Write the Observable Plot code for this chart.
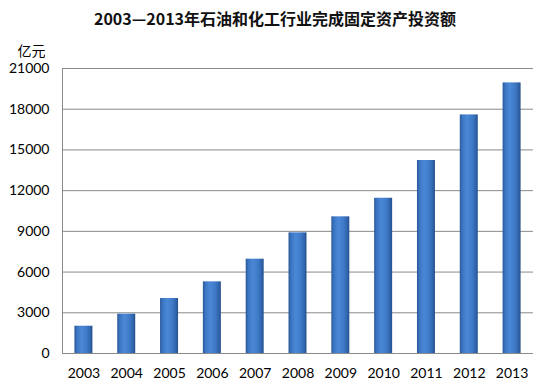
<!DOCTYPE html>
<html>
<head>
<meta charset="utf-8">
<script src="https://cdn.jsdelivr.net/npm/d3@7"></script>
<script src="https://cdn.jsdelivr.net/npm/@observablehq/plot@0.6"></script>
<style>
  body { margin: 0; background: #fff; }
  #wrap { width: 542px; height: 387px; position: relative; }
  #title { height: 35px; line-height: 36px; text-align: center; font-family: "Noto Sans CJK SC", sans-serif; font-weight: bold; font-size: 16px; color: #111; padding-left: 8px; }
</style>
</head>
<body>
<div id="wrap">
  <div id="title">2003—2013年石油和化工行业完成固定资产投资额</div>
  <div id="chart"></div>
</div>
<script>
const years = ["2003","2004","2005","2006","2007","2008","2009","2010","2011","2012","2013"];
const values = [2010, 2900, 4050, 5280, 6950, 8890, 10070, 11440, 14220, 17580, 19940];
const yTicks = [0, 3000, 6000, 9000, 12000, 15000, 18000, 21000];
const unitLabel = "亿元";

const data = years.map((y, i) => ({year: y, value: values[i]}));

const chart = Plot.plot({
  width: 542,
  height: 352,
  marginLeft: 62,
  marginRight: 9,
  marginTop: 33,
  marginBottom: 34,
  style: {fontFamily: "Lato, 'Noto Sans CJK SC', sans-serif", fontSize: "14px", color: "#000", background: "#fff"},
  x: {domain: years, paddingInner: 0.58, paddingOuter: 0.29, round: false, label: null, tickSize: 0, tickPadding: 15},
  y: {domain: [0, 21000], ticks: yTicks, label: null, tickSize: 0, tickPadding: 13, tickFormat: d => String(d)},
  marks: [
    Plot.gridY(yTicks, {stroke: "#8a8a8a", strokeOpacity: 1, strokeWidth: 1}),
    Plot.frame({anchor: "left", stroke: "#8a8a8a"}),
    Plot.barY(data, {x: "year", y: "value", fill: "url(#barGrad)"}),
    Plot.ruleY([0], {stroke: "#8a8a8a"}),
    Plot.text([unitLabel], {frameAnchor: "top-left", textAnchor: "middle", dx: -31, dy: -22, fontSize: 14, fontFamily: "'Noto Sans CJK SC', sans-serif"})
  ]
});

const svg = d3.select(chart);
const defs = svg.insert("defs", ":first-child");
const g = defs.append("linearGradient").attr("id", "barGrad").attr("x1", "0").attr("x2", "1").attr("y1", "0").attr("y2", "0");
[[0, "#2a5899"], [0.15, "#3c76c3"], [0.4, "#4a88d6"], [0.7, "#3d79c6"], [0.9, "#2f62a8"], [1, "#244f8c"]].forEach(([o, c]) => g.append("stop").attr("offset", o).attr("stop-color", c));

document.getElementById("chart").appendChild(chart);
</script>
</body>
</html>
